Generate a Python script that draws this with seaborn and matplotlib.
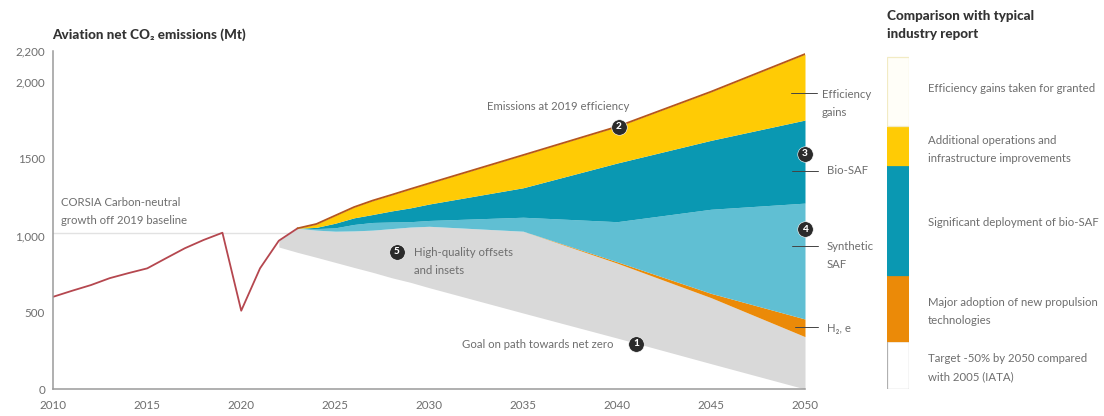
import matplotlib
matplotlib.use("Agg")
import matplotlib.pyplot as plt
import numpy as np
import pandas as pd
import seaborn as sns

# Historical emissions and the shared scenario years (Mt CO2)
hist_years = [2010, 2011, 2012, 2013, 2014, 2015, 2016, 2017, 2018, 2019, 2020, 2021, 2022, 2023]
hist_values = [601, 640, 677, 722, 755, 786, 852, 917, 971, 1018, 510, 786, 966, 1047]

years = [2022, 2023, 2024, 2025, 2026, 2027, 2028, 2029, 2030, 2035, 2040, 2045, 2050]
no_efficiency = [966, 1047, 1075, 1130, 1185, 1228, 1265, 1303, 1340, 1524, 1709, 1937, 2182]
after_efficiency = [966, 1047, 1053, 1080, 1115, 1137, 1160, 1180, 1205, 1311, 1472, 1620, 1752]
after_bio_saf = [966, 1047, 1045, 1050, 1072, 1085, 1088, 1090, 1098, 1119, 1090, 1171, 1211]
after_synthetic = [966, 1047, 1035, 1028, 1030, 1035, 1045, 1055, 1060, 1028, 829, 623, 456]
after_hydrogen = [966, 1047, 1035, 1028, 1030, 1035, 1045, 1055, 1060, 1028, 820, 595, 341]
net_goal = [925, 890, 858, 825, 792, 760, 725, 695, 660, 495, 332, 165, 0]

y_ticks = [0, 500, 1000, 1500, 2000, 2200]
y_tick_labels = ["0", "500", "1,000", "1500", "2,000", "2,200"]
x_ticks = [2010, 2015, 2020, 2025, 2030, 2035, 2040, 2045, 2050]

# Comparison column: segment heights on the emissions scale, bottom to top
segment_names = ["Target", "Propulsion", "Bio-SAF", "Operations", "Efficiency"]
segment_heights = [310, 430, 720, 255, 450]

YELLOW = "#FFCB05"
TEAL = "#0A98B2"
LIGHT_BLUE = "#60BFD3"
ORANGE = "#EB8A08"
GREY = "#D9D9D9"
segment_fill = ["white", ORANGE, TEAL, YELLOW, "#FFFEF8"]
segment_edge = ["#B0B0B0", ORANGE, TEAL, YELLOW, "#F2EBC4"]

sns.set_theme(style="white")
plt.rcParams["font.family"] = ["Lato", "DejaVu Sans"]

W, H = 1104, 416
TEXT = "#6E6E6E"
DARK = "#333333"
fig = plt.figure(figsize=(W / 100, H / 100), dpi=100)


def axes_from_pixels(x0, x1, y_top, y_bottom):
    return fig.add_axes([x0 / W, 1 - y_bottom / H, (x1 - x0) / W, (y_bottom - y_top) / H])


ax = axes_from_pixels(53.3, 805, 51.3, 389)
ax.axhline(hist_values[hist_years.index(2019)], color="#E2E2E2", lw=1, zorder=0.5)
ax.fill_between(years, net_goal, after_hydrogen, color=GREY, lw=0)
ax.fill_between(years, after_hydrogen, after_synthetic, color=ORANGE, lw=0)
ax.fill_between(years, after_synthetic, after_bio_saf, color=LIGHT_BLUE, lw=0)
ax.fill_between(years, after_bio_saf, after_efficiency, color=TEAL, lw=0)
ax.fill_between(years, after_efficiency, no_efficiency, color=YELLOW, lw=0)

sns.lineplot(x=hist_years, y=hist_values, color="#B5474F", lw=1.3, ax=ax)
sns.lineplot(x=years[1:], y=no_efficiency[1:], color="#B5561E", lw=1.3, ax=ax)

ax.set_xlim(2010, 2050)
ax.set_ylim(0, 2200)
ax.set_xticks(x_ticks)
ax.set_yticks(y_ticks, y_tick_labels)
ax.tick_params(axis="y", length=0, labelsize=8.4, labelcolor=TEXT, pad=6)
ax.tick_params(axis="x", length=0, labelsize=8.4, labelcolor=TEXT, pad=8)
ax.patch.set_alpha(0)
for side in ("top", "right"):
    ax.spines[side].set_visible(False)
for side in ("left", "bottom"):
    ax.spines[side].set_color("#9A9A9A")
    ax.spines[side].set_linewidth(1.1)

# Comparison column, sharing the vertical scale of the main chart
bar_ax = axes_from_pixels(887, 909, 51.3, 389)
bottom = 0
for name, height, fill, edge in zip(segment_names, segment_heights, segment_fill, segment_edge):
    bar_ax.bar(0, height, bottom=bottom, width=1, color=fill, edgecolor=edge, lw=0.9, label=name)
    bottom += height
bar_ax.set_xlim(-0.52, 0.52)
bar_ax.set_ylim(0, 2200)
bar_ax.axis("off")

# Overlay in pixel units for callouts and labels
over = fig.add_axes([0, 0, 1, 1])
over.set_xlim(0, W)
over.set_ylim(H, 0)
over.axis("off")
over.patch.set_alpha(0)


def label(x, y, s, color=TEXT, size=8.2, weight="normal"):
    over.text(x, y, s, color=color, fontsize=size, fontweight=weight, va="center", ha="left")


label(52, 35, "Aviation net CO₂ emissions (Mt)", DARK, 9.7, "black")
label(887, 16, "Comparison with typical", DARK, 9.7, "black")
label(887, 34, "industry report", DARK, 9.7, "black")

label(61, 202, "CORSIA Carbon-neutral")
label(61, 220, "growth off 2019 baseline")
label(487, 107, "Emissions at 2019 efficiency")
label(414, 253, "High-quality offsets")
label(414, 271, "and insets")
label(462, 345, "Goal on path towards net zero")
label(822, 94, "Efficiency")
label(822, 112, "gains")
label(827, 171, "Bio-SAF")
label(827, 246, "Synthetic")
label(827, 264, "SAF")
label(827, 328, "H₂, e")

label(928, 89, "Efficiency gains taken for granted")
label(928, 140, "Additional operations and")
label(928, 158, "infrastructure improvements")
label(928, 222, "Significant deployment of bio-SAF")
label(928, 302, "Major adoption of new propulsion")
label(928, 320, "technologies")
label(928, 359, "Target -50% by 2050 compared")
label(928, 377, "with 2005 (IATA)")

for x0, x1, y in [(791, 817, 93), (792, 818, 171), (792, 818, 246), (795, 818, 327)]:
    over.plot([x0, x1], [y, y], color="#444444", lw=0.7)

for x, y, s in [(636, 344, "1"), (618.5, 126.5, "2"), (805, 154, "3"), (805, 229, "4"), (397, 252, "5")]:
    over.scatter([x], [y], s=125, color="#2B2B2B", edgecolor="white", linewidth=0.4, zorder=5)
    over.text(x, y, s, color="white", fontsize=7.2, fontweight="black", ha="center", va="center", zorder=6)

over.set_xlim(0, W)
over.set_ylim(H, 0)
fig.savefig("out.png", dpi=100, facecolor="white")
